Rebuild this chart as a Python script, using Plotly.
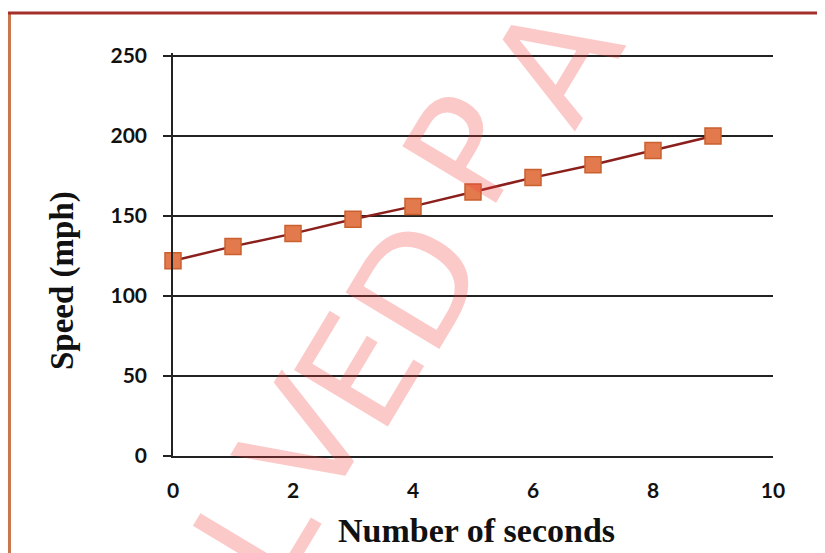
import plotly.graph_objects as go

seconds = [0, 1, 2, 3, 4, 5, 6, 7, 8, 9]
speed_mph = [122, 131, 139, 148, 156, 165, 174, 182, 191, 200]
x_ticks = [0, 2, 4, 6, 8, 10]
y_ticks = [0, 50, 100, 150, 200, 250]
watermark_letters = ["L", "V", "E", "D", "P", "A"]

# page is offset by the 8px body margin; figure coords = page coords - 8
OFF = 8
W, H = 825, 553
L, R, T, B = 165, 60, 45, 105
pw, ph = W - L - R, H - T - B

def px(x):
    return (x - OFF - L) / pw

def py(y):
    return (H - B - (y - OFF)) / ph

fig = go.Figure()
fig.add_trace(go.Scatter(
    x=seconds, y=speed_mph, mode="lines+markers",
    line=dict(color="#8a1f1c", width=2.5),
    marker=dict(symbol="square", size=16, color="#e37a4d",
                line=dict(color="#c9602f", width=1.5)),
    showlegend=False, cliponaxis=False,
))

tickfont = dict(family="Lato, Open Sans, sans-serif", size=21, color="#111", weight="bold")
titlefont = dict(family="Liberation Serif, Times New Roman, serif", size=34, color="#111")

fig.update_layout(
    width=W, height=H,
    margin=dict(l=L, r=R, t=T, b=B),
    paper_bgcolor="white", plot_bgcolor="white",
    xaxis=dict(range=[0, 10], tickvals=x_ticks, showgrid=False, zeroline=False,
               showline=True, linecolor="#222", linewidth=1.5, ticks="",
               tickfont=tickfont, ticklabelstandoff=15),
    yaxis=dict(range=[0, ph / 1.6], tickvals=y_ticks, showgrid=True, gridcolor="#222",
               gridwidth=1.5, zeroline=False, showline=True, linecolor="#222",
               linewidth=1.5, ticks="outside", ticklen=8, tickcolor="#222",
               tickwidth=1.5, tickfont=tickfont, ticklabelstandoff=12),
)

# axis titles
fig.add_annotation(text="<b>Number of seconds</b>", xref="paper", yref="paper",
                   x=px(476), y=py(530), xanchor="center", yanchor="middle",
                   showarrow=False, font=titlefont)
fig.add_annotation(text="<b>Speed (mph)</b>", xref="paper", yref="paper",
                   x=px(62), y=py(281), xanchor="center", yanchor="middle",
                   showarrow=False, textangle=-90, font=dict(titlefont, size=33))

# frame lines of the scanned page
fig.add_shape(type="line", xref="paper", yref="paper", x0=px(9.5), x1=px(9.5),
              y0=py(13), y1=py(570), line=dict(color="#c8784c", width=3))
fig.add_shape(type="line", xref="paper", yref="paper", x0=px(8), x1=px(840),
              y0=py(13), y1=py(13), line=dict(color="#a3302a", width=3))

# watermark letters
centers = [(256, 532), (305, 442), (360, 372), (417, 285), (467, 150), (556, 62)]
for ch, (cx, cy) in zip(watermark_letters, centers):
    fig.add_annotation(text=ch, xref="paper", yref="paper",
                       x=px(cx), y=py(cy), xanchor="center", yanchor="middle",
                       showarrow=False, textangle=-59,
                       font=dict(family="DejaVu Sans", size=150,
                                 color="rgba(245,60,60,0.28)"))

fig.write_html("out.html")
